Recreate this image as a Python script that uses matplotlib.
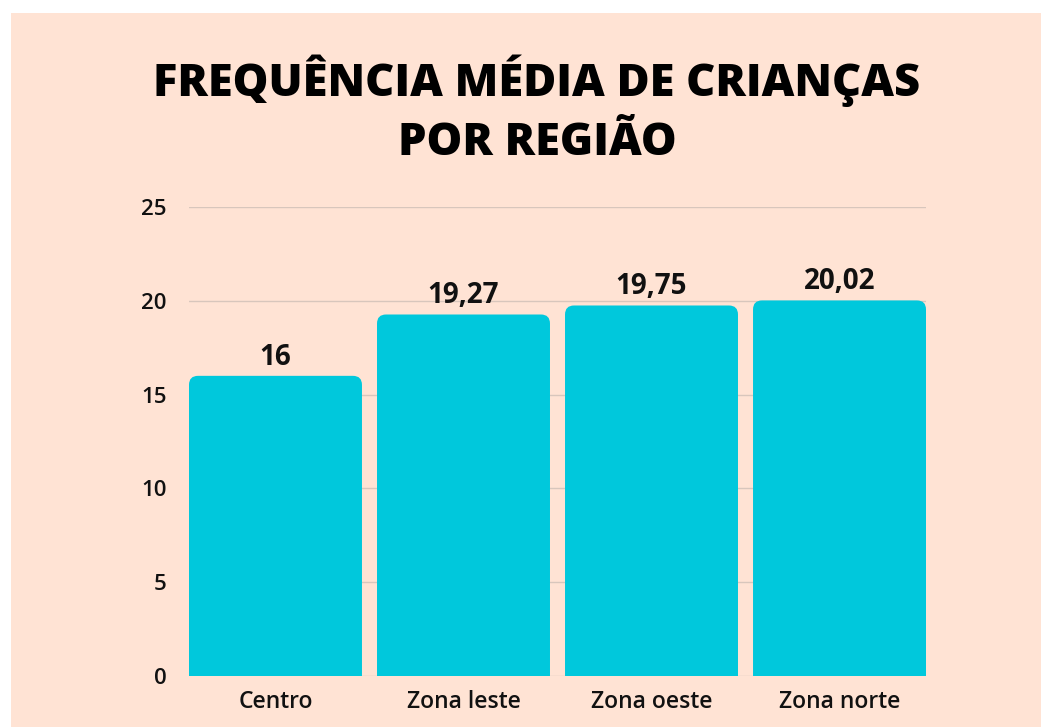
import matplotlib
matplotlib.use("Agg")
import matplotlib.pyplot as plt
from matplotlib.patches import Rectangle, FancyBboxPatch
from matplotlib.transforms import IdentityTransform

categories = ["Centro", "Zona leste", "Zona oeste", "Zona norte"]
values = [16, 19.27, 19.75, 20.02]
value_labels = ["16", "19,27", "19,75", "20,02"]
yticks = [0, 5, 10, 15, 20, 25]
title = "FREQUÊNCIA MÉDIA DE CRIANÇAS\nPOR REGIÃO"

BG = "#FFE3D4"
BAR = "#00C8DC"
GRID = "#D8C6BC"
FONT = "Open Sans"
BAR_W = 0.92

W, H = 1041, 727
fig = plt.figure(figsize=(W / 100, H / 100), dpi=100, facecolor="white")
fig.patches.append(Rectangle((11 / W, 0), 1 - 11 / W, 1 - 13 / H,
                             transform=fig.transFigure, facecolor=BG,
                             edgecolor="none", zorder=-10))

left, right = 189 / W, 926 / W
bottom, top = 1 - 676 / H, 1 - 207 / H
ax = fig.add_axes([left, bottom, right - left, top - bottom])
ax.set_facecolor("none")
ax.set_xlim(-BAR_W / 2, len(categories) - 1 + BAR_W / 2)
ax.set_ylim(0, 25)

for y in yticks:
    ax.axhline(y, color=GRID, lw=1.0, zorder=0)

x = list(range(len(categories)))
bars = ax.bar(x, values, width=BAR_W, color=BAR, zorder=2)
# rounded top corners, drawn in display space from each bar's extent;
# the shape extends below the axis and is clipped so bottom corners are square
rad = 9
for b in bars:
    bx, bw, bh = b.get_x(), b.get_width(), b.get_height()
    (x0, y0), (x1, y1) = ax.transData.transform([(bx, 0), (bx + bw, bh)])
    b.set_visible(False)
    p = FancyBboxPatch((x0, y0 - 20), x1 - x0, y1 - y0 + 20,
                       boxstyle=f"round,pad=0,rounding_size={rad}",
                       facecolor=BAR, edgecolor="none", zorder=2,
                       transform=IdentityTransform())
    ax.add_artist(p)
    p.set_clip_box(ax.bbox)

for xi, v, lab in zip(x, values, value_labels):
    ax.annotate(lab, (xi, v), xytext=(0, 3), textcoords="offset points",
                ha="center", va="bottom", fontsize=20, fontweight="bold",
                family=FONT, color="#111111")

ax.set_xticks(x)
ax.set_xticklabels(categories, fontsize=16.5, fontweight="semibold", family=FONT)
ax.set_yticks(yticks)
ax.set_yticklabels([str(t) for t in yticks], fontsize=16, fontweight="semibold",
                   family=FONT)
ax.tick_params(axis="both", length=0, colors="#111111")
ax.tick_params(axis="x", pad=10)
ax.tick_params(axis="y", pad=16)
for s in ax.spines.values():
    s.set_visible(False)

fig.text(537 / W, 1 - 110 / H, title, ha="center", va="center",
         fontsize=32.5, fontweight="heavy", family=FONT, color="#000000",
         linespacing=1.4)

fig.savefig("out.png", dpi=100, facecolor="white")
